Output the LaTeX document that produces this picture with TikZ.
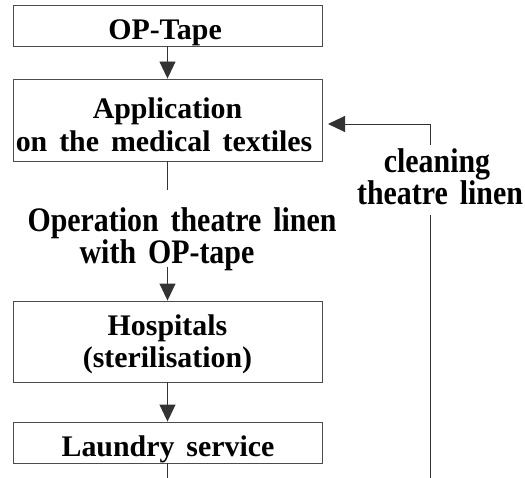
\documentclass[tikz,border=0pt]{standalone}
\usepackage{fontspec}
\setmainfont{Liberation Serif}[WordSpace=1.6]
\usetikzlibrary{arrows.meta}
\newcommand{\tall}[1]{\scalebox{1}[1.15]{#1}}
\newcommand{\tightlines}{\setlength{\lineskiplimit}{-100bp}\setlength{\lineskip}{0bp}}
\begin{document}
\begin{tikzpicture}[x=1bp,y=-1bp,
  box/.style={draw=black!70,line width=0.9bp,rectangle,minimum width=309bp,inner sep=0pt},
  txt/.style={inner sep=0pt,anchor=base,font=\fontsize{30}{33}\selectfont\bfseries},
  lbl/.style={inner sep=0pt,align=center,font=\fontsize{30}{30}\selectfont\bfseries},
  conn/.style={draw=black!80,line width=0.9bp},
  arr/.style={conn,-{Triangle[length=17bp,width=16bp]}}]
\useasboundingbox (0,0) rectangle (525,478);
% boxes
\node[box,minimum height=41bp] (optape) at (167.5,25.5) {};
\node[box,minimum height=82bp] (app) at (167.5,120) {};
\node[box,minimum height=81bp] (hosp) at (167.5,341.5) {};
\node[box,minimum height=41bp] (laundry) at (167.5,442.5) {};
% box texts
\node[txt] (optapeT) at (165,40) {OP-Tape};
\node[txt] (appT1) at (167.5,119) {Application};
\node[txt] (appT2) at (164,152) {on the medical textiles};
\node[txt] (hospT1) at (167.5,335) {Hospitals};
\node[txt] (hospT2) at (167.5,367) {(sterilisation)};
\node[txt] (laundryT) at (168,456) {Laundry service};
% free labels
\node[lbl] (op) at (182,239) {\tightlines\tall{Operation theatre linen}\\\tall{with OP-tape}\rule{30bp}{0pt}};
\node[lbl] (clean) at (440,177) {\tightlines\tall{cleaning}\rule{6bp}{0pt}\\\tall{theatre linen}};
% connectors
\coordinate (a1) at (167.5,190);
\coordinate (a2) at (167.5,267);
\coordinate (bot) at (167.5,478);
\coordinate (r0) at (430,478);
\coordinate (r1) at (430,215);
\coordinate (r2) at (430,145);
\coordinate (r3) at (430,124);
\coordinate (tip) at (328,124);
\draw[arr] (optape.south) -- (app.north);
\draw[conn] (app.south) -- (a1);
\draw[arr] (a2) -- (hosp.north);
\draw[arr] (hosp.south) -- (laundry.north);
\draw[conn] (laundry.south) -- (bot);
\draw[conn] (r0) -- (r1);
\draw[arr] (r2) -- (r3) -- (tip);
\end{tikzpicture}
\end{document}
